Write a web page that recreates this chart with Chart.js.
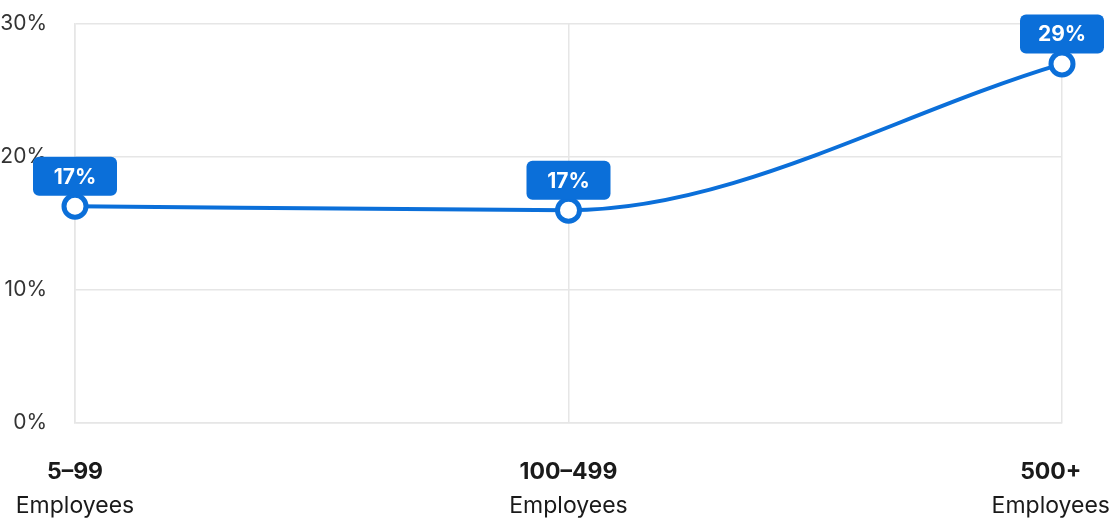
<!DOCTYPE html>
<html>
<head>
<meta charset="utf-8">
<script src="https://cdn.jsdelivr.net/npm/chart.js@4.4.1/dist/chart.umd.min.js"></script>
<style>
  html, body { margin: 0; padding: 0; background: #fff; }
  #wrap { width: 1111px; height: 525px; position: relative; }
</style>
</head>
<body>
<div id="wrap"><canvas id="grafico"></canvas></div>
<script>
// datos
const grupos = ["5–99", "100–499", "500+"];
const subtitulo = ["Employees", "Employees", "Employees"];
const valores = [16.3, 16.0, 27.0];
const etiquetas = ["17%", "17%", "29%"];
const ticksY = [0, 10, 20, 30];

const azul = "#0b6fd9";
const FUENTE = "Inter, 'Noto Sans', sans-serif";

// etiquetas sobre los puntos
const cajasValor = {
  id: "cajasValor",
  afterDatasetsDraw(chart) {
    const ctx = chart.ctx;
    const meta = chart.getDatasetMeta(0);
    ctx.save();
    meta.data.forEach((p, i) => {
      const w = 84, h = 39;
      const x = p.x - w / 2;
      const y = p.y - 10.5 - h;
      ctx.fillStyle = azul;
      ctx.beginPath();
      ctx.roundRect(x, y, w, h, 6);
      ctx.fill();
      ctx.fillStyle = "#fff";
      ctx.font = "700 21px " + FUENTE;
      ctx.textAlign = "center";
      ctx.textBaseline = "middle";
      ctx.fillText(etiquetas[i], p.x, y + h / 2 + 1);
    });
    ctx.restore();
  }
};

// etiquetas del eje x en dos lineas
const ejeX = {
  id: "ejeX",
  afterDraw(chart) {
    const ctx = chart.ctx;
    const sx = chart.scales.x;
    const ancho = chart.width;
    ctx.save();
    ctx.textAlign = "center";
    ctx.textBaseline = "middle";
    grupos.forEach((g, i) => {
      const x = sx.getPixelForValue(i);
      ctx.font = "700 23px " + FUENTE;
      const w1 = ctx.measureText(g).width;
      ctx.font = "400 23px " + FUENTE;
      const w2 = ctx.measureText(subtitulo[i]).width;
      const mw = Math.max(w1, w2);
      let off = 0;
      if (x + mw / 2 > ancho - 1) off = ancho - 1 - (x + mw / 2);
      if (x - mw / 2 < 1) off = 1 - (x - mw / 2);
      ctx.fillStyle = "#1a1a1a";
      ctx.font = "700 23px " + FUENTE;
      ctx.fillText(g, x + off, 472);
      ctx.font = "400 23px " + FUENTE;
      ctx.fillText(subtitulo[i], x + off, 506);
    });
    ctx.restore();
  }
};

new Chart(document.getElementById("grafico"), {
  type: "line",
  data: {
    labels: grupos,
    datasets: [{
      data: valores,
      borderColor: azul,
      borderWidth: 4,
      cubicInterpolationMode: "monotone",
      pointRadius: 11,
      pointBorderWidth: 5,
      pointBackgroundColor: "#fff",
      pointBorderColor: azul,
      clip: false
    }]
  },
  options: {
    responsive: true,
    maintainAspectRatio: false,
    animation: false,
    events: [],
    layout: { padding: { top: 24, right: 49, left: 0, bottom: 0 } },
    plugins: { legend: { display: false }, tooltip: { enabled: false } },
    scales: {
      x: {
        type: "category",
        offset: false,
        grid: { color: "#e6e6e6", lineWidth: 1.5, drawTicks: false },
        border: { color: "#e6e6e6", width: 1.5 },
        ticks: { display: false },
        afterFit(s) { s.height = 102; }
      },
      y: {
        min: 0,
        max: 30,
        afterBuildTicks(s) { s.ticks = ticksY.map(v => ({ value: v })); },
        // marcas invisibles para separar las etiquetas sin inflar el padding
        grid: { color: "#e6e6e6", lineWidth: 1.5, drawTicks: true, tickLength: 28, tickColor: "rgba(0,0,0,0)" },
        border: { color: "#e6e6e6", width: 1.5 },
        ticks: {
          padding: 0,
          color: "#333",
          font: { family: FUENTE, size: 21 },
          callback: v => v + "%"
        },
        afterFit(s) { s.width = 75; }
      }
    }
  },
  plugins: [cajasValor, ejeX]
});
</script>
</body>
</html>
